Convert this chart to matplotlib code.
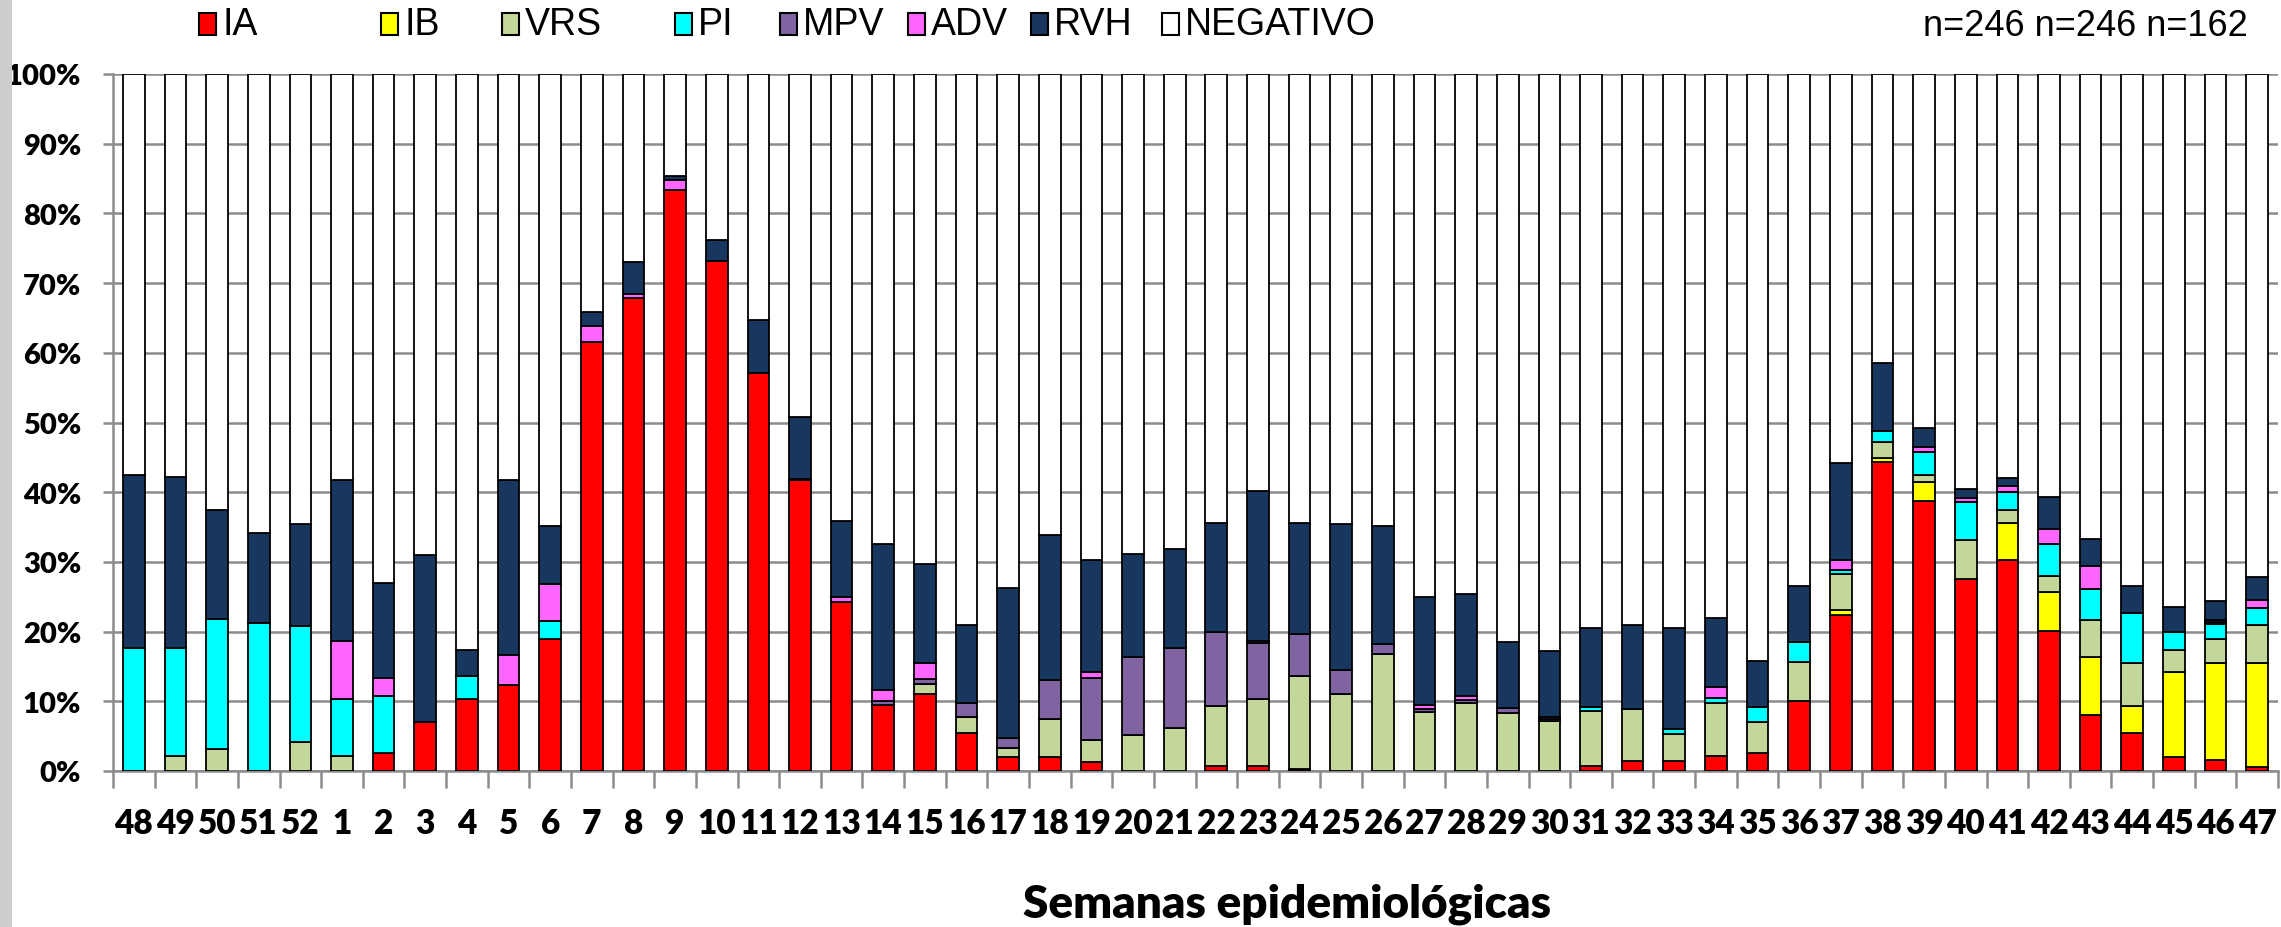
import matplotlib
matplotlib.use('Agg')
import matplotlib.pyplot as plt
from matplotlib.patches import Rectangle
import numpy as np

plt.rcParams['font.family'] = ['Lato', 'DejaVu Sans']
plt.rcParams['font.weight'] = 'heavy'

weeks = ['48', '49', '50', '51', '52'] + [str(i) for i in range(1, 48)]

# percent of samples per week (segment heights)
ia = [0, 0, 0, 0, 0, 0, 2.6, 7.1, 10.3, 12.4, 18.9, 61.6, 67.9, 83.3, 73.1, 57.1, 41.7,
      24.3, 9.5, 11.0, 5.5, 2.0, 2.0, 1.3, 0, 0, 0.7, 0.7, 0.3, 0, 0, 0, 0, 0, 0,
      0.7, 1.4, 1.4, 2.2, 2.6, 10.0, 22.4, 44.4, 38.8, 27.6, 30.3, 20.1, 8.1, 5.5, 2.0, 1.6, 0.6]
ib = [0, 0, 0, 0, 0, 0, 0, 0, 0, 0, 0, 0, 0, 0, 0, 0, 0,
      0, 0, 0, 0, 0, 0, 0, 0, 0, 0, 0, 0, 0, 0, 0, 0, 0, 0,
      0, 0, 0, 0, 0, 0, 0.7, 0.5, 2.6, 0, 5.3, 5.6, 8.3, 3.8, 12.2, 13.9, 14.9]
vrs = [0, 2.2, 3.1, 0, 4.1, 2.1, 0, 0, 0, 0, 0, 0, 0, 0, 0, 0, 0,
       0, 0, 1.5, 2.2, 1.3, 5.5, 3.2, 5.1, 6.2, 8.6, 9.6, 13.3, 11.1, 16.8, 8.5, 9.8, 8.3, 7.2,
       7.9, 7.5, 3.9, 7.6, 4.4, 5.7, 5.1, 2.3, 1.1, 5.5, 1.8, 2.3, 5.3, 6.2, 3.2, 3.5, 5.4]
pi = [17.7, 15.4, 18.7, 21.2, 16.7, 8.2, 8.2, 0, 3.4, 0, 2.6, 0, 0, 0, 0, 0, 0,
      0, 0, 0, 0, 0, 0, 0, 0, 0, 0, 0, 0, 0, 0, 0, 0, 0, 0,
      0.6, 0, 0.7, 0.7, 2.2, 2.8, 0.7, 1.6, 3.3, 5.5, 2.7, 4.5, 4.4, 7.1, 2.5, 2.1, 2.5]
mpv = [0, 0, 0, 0, 0, 0, 0, 0, 0, 0, 0, 0, 0, 0, 0, 0, 0,
       0, 0.5, 0.7, 2.0, 1.4, 5.6, 8.8, 11.3, 11.5, 10.6, 8.1, 6.0, 3.4, 1.4, 0.4, 0.4, 0.7, 0.2,
       0, 0, 0, 0, 0, 0, 0, 0, 0, 0, 0, 0, 0, 0, 0, 0.3, 0]
adv = [0, 0, 0, 0, 0, 8.4, 2.6, 0, 0, 4.2, 5.4, 2.2, 0.5, 1.5, 0, 0, 0.2,
       0.7, 1.6, 2.3, 0, 0, 0, 0.9, 0, 0, 0, 0.3, 0, 0, 0, 0.5, 0.5, 0, 0.4,
       0, 0, 0, 1.6, 0, 0, 1.4, 0, 0.7, 0.6, 0.8, 2.2, 3.3, 0, 0, 0.3, 1.2]
rvh = [24.7, 24.6, 15.6, 12.9, 14.6, 23.0, 13.6, 23.9, 3.6, 25.1, 8.3, 2.1, 4.6, 0.6, 3.1, 7.6, 8.9,
       10.8, 20.9, 14.2, 11.2, 21.5, 20.7, 16.1, 14.7, 14.2, 15.7, 21.5, 16.0, 20.9, 16.9, 15.6, 14.7, 9.5, 9.4,
       11.3, 12.0, 14.5, 9.9, 6.6, 8.0, 13.9, 9.8, 2.7, 1.3, 1.1, 4.6, 3.9, 3.9, 3.7, 2.7, 3.2]

series = [('IA', ia, '#FF0000'), ('IB', ib, '#FFFF00'), ('VRS', vrs, '#C4D79B'),
          ('PI', pi, '#00FFFF'), ('MPV', mpv, '#8064A2'), ('ADV', adv, '#FF66FF'),
          ('RVH', rvh, '#17375E')]
total = np.sum([s[1] for s in series], axis=0)
negativo = 100 - total
series.append(('NEGATIVO', list(negativo), '#FFFFFF'))

W, H = 2281, 928
fig = plt.figure(figsize=(W / 100, H / 100), dpi=100)
ax = fig.add_axes([113 / W, 1 - 772 / H, 2165 / W, 697 / H])

# textured strip on the left edge of the slide
fig.add_artist(Rectangle((0, 0), 12 / W, 1, transform=fig.transFigure,
                         facecolor='#cdcdcd', edgecolor='none'))

x = np.arange(len(weeks))
bottom = np.zeros(len(weeks))
for name, vals, col in series:
    ax.bar(x, vals, bottom=bottom, width=0.52, color=col, edgecolor='black',
           linewidth=1.3, zorder=3)
    bottom += np.array(vals)

ax.set_xlim(-0.5, len(weeks) - 0.5)
ax.set_ylim(0, 100)
ax.yaxis.grid(True, color='#8c8c8c', linewidth=1.8, zorder=0)
ax.set_axisbelow(True)
for s in ['top', 'right']:
    ax.spines[s].set_visible(False)
for s in ['left', 'bottom']:
    ax.spines[s].set_color('#8c8c8c')
    ax.spines[s].set_linewidth(1.8)

ax.set_yticks(np.arange(0, 101, 10))
ax.set_yticklabels([f'{v}%' for v in range(0, 101, 10)], fontweight='heavy')
ax.set_xticks(x)
ax.set_xticklabels(weeks, fontweight='heavy')
ax.set_xticks(np.arange(-0.5, len(weeks), 1), minor=True)
ax.tick_params(axis='x', which='major', length=0, pad=26, labelsize=24)
ax.tick_params(axis='x', which='minor', length=12, width=1.8, color='#8c8c8c')
ax.tick_params(axis='y', length=7, width=1.8, color='#8c8c8c', pad=16, labelsize=21)

fig.text(1287 / W, 1 - 904 / H, 'Semanas epidemiológicas', ha='center', va='center',
         fontsize=33, fontweight='heavy')

# legend along the top
plain = dict(family=['Liberation Sans', 'DejaVu Sans'], fontweight='normal')
leg_x = [199, 381, 502, 675, 780, 908, 1031, 1162]
for (name, vals, col), lx in zip(series, leg_x):
    fig.add_artist(Rectangle((lx / W, 1 - 36 / H), 17 / W, 22 / H, transform=fig.transFigure,
                             facecolor=col, edgecolor='black', linewidth=1.5))
    fig.text((lx + 23) / W, 1 - 25 / H, name, ha='left', va='center', fontsize=27, **plain)

fig.text(2248 / W, 1 - 27 / H, 'n=246 n=246 n=162', ha='right', va='center',
         fontsize=26, **plain)

fig.savefig('out.png', dpi=100)
